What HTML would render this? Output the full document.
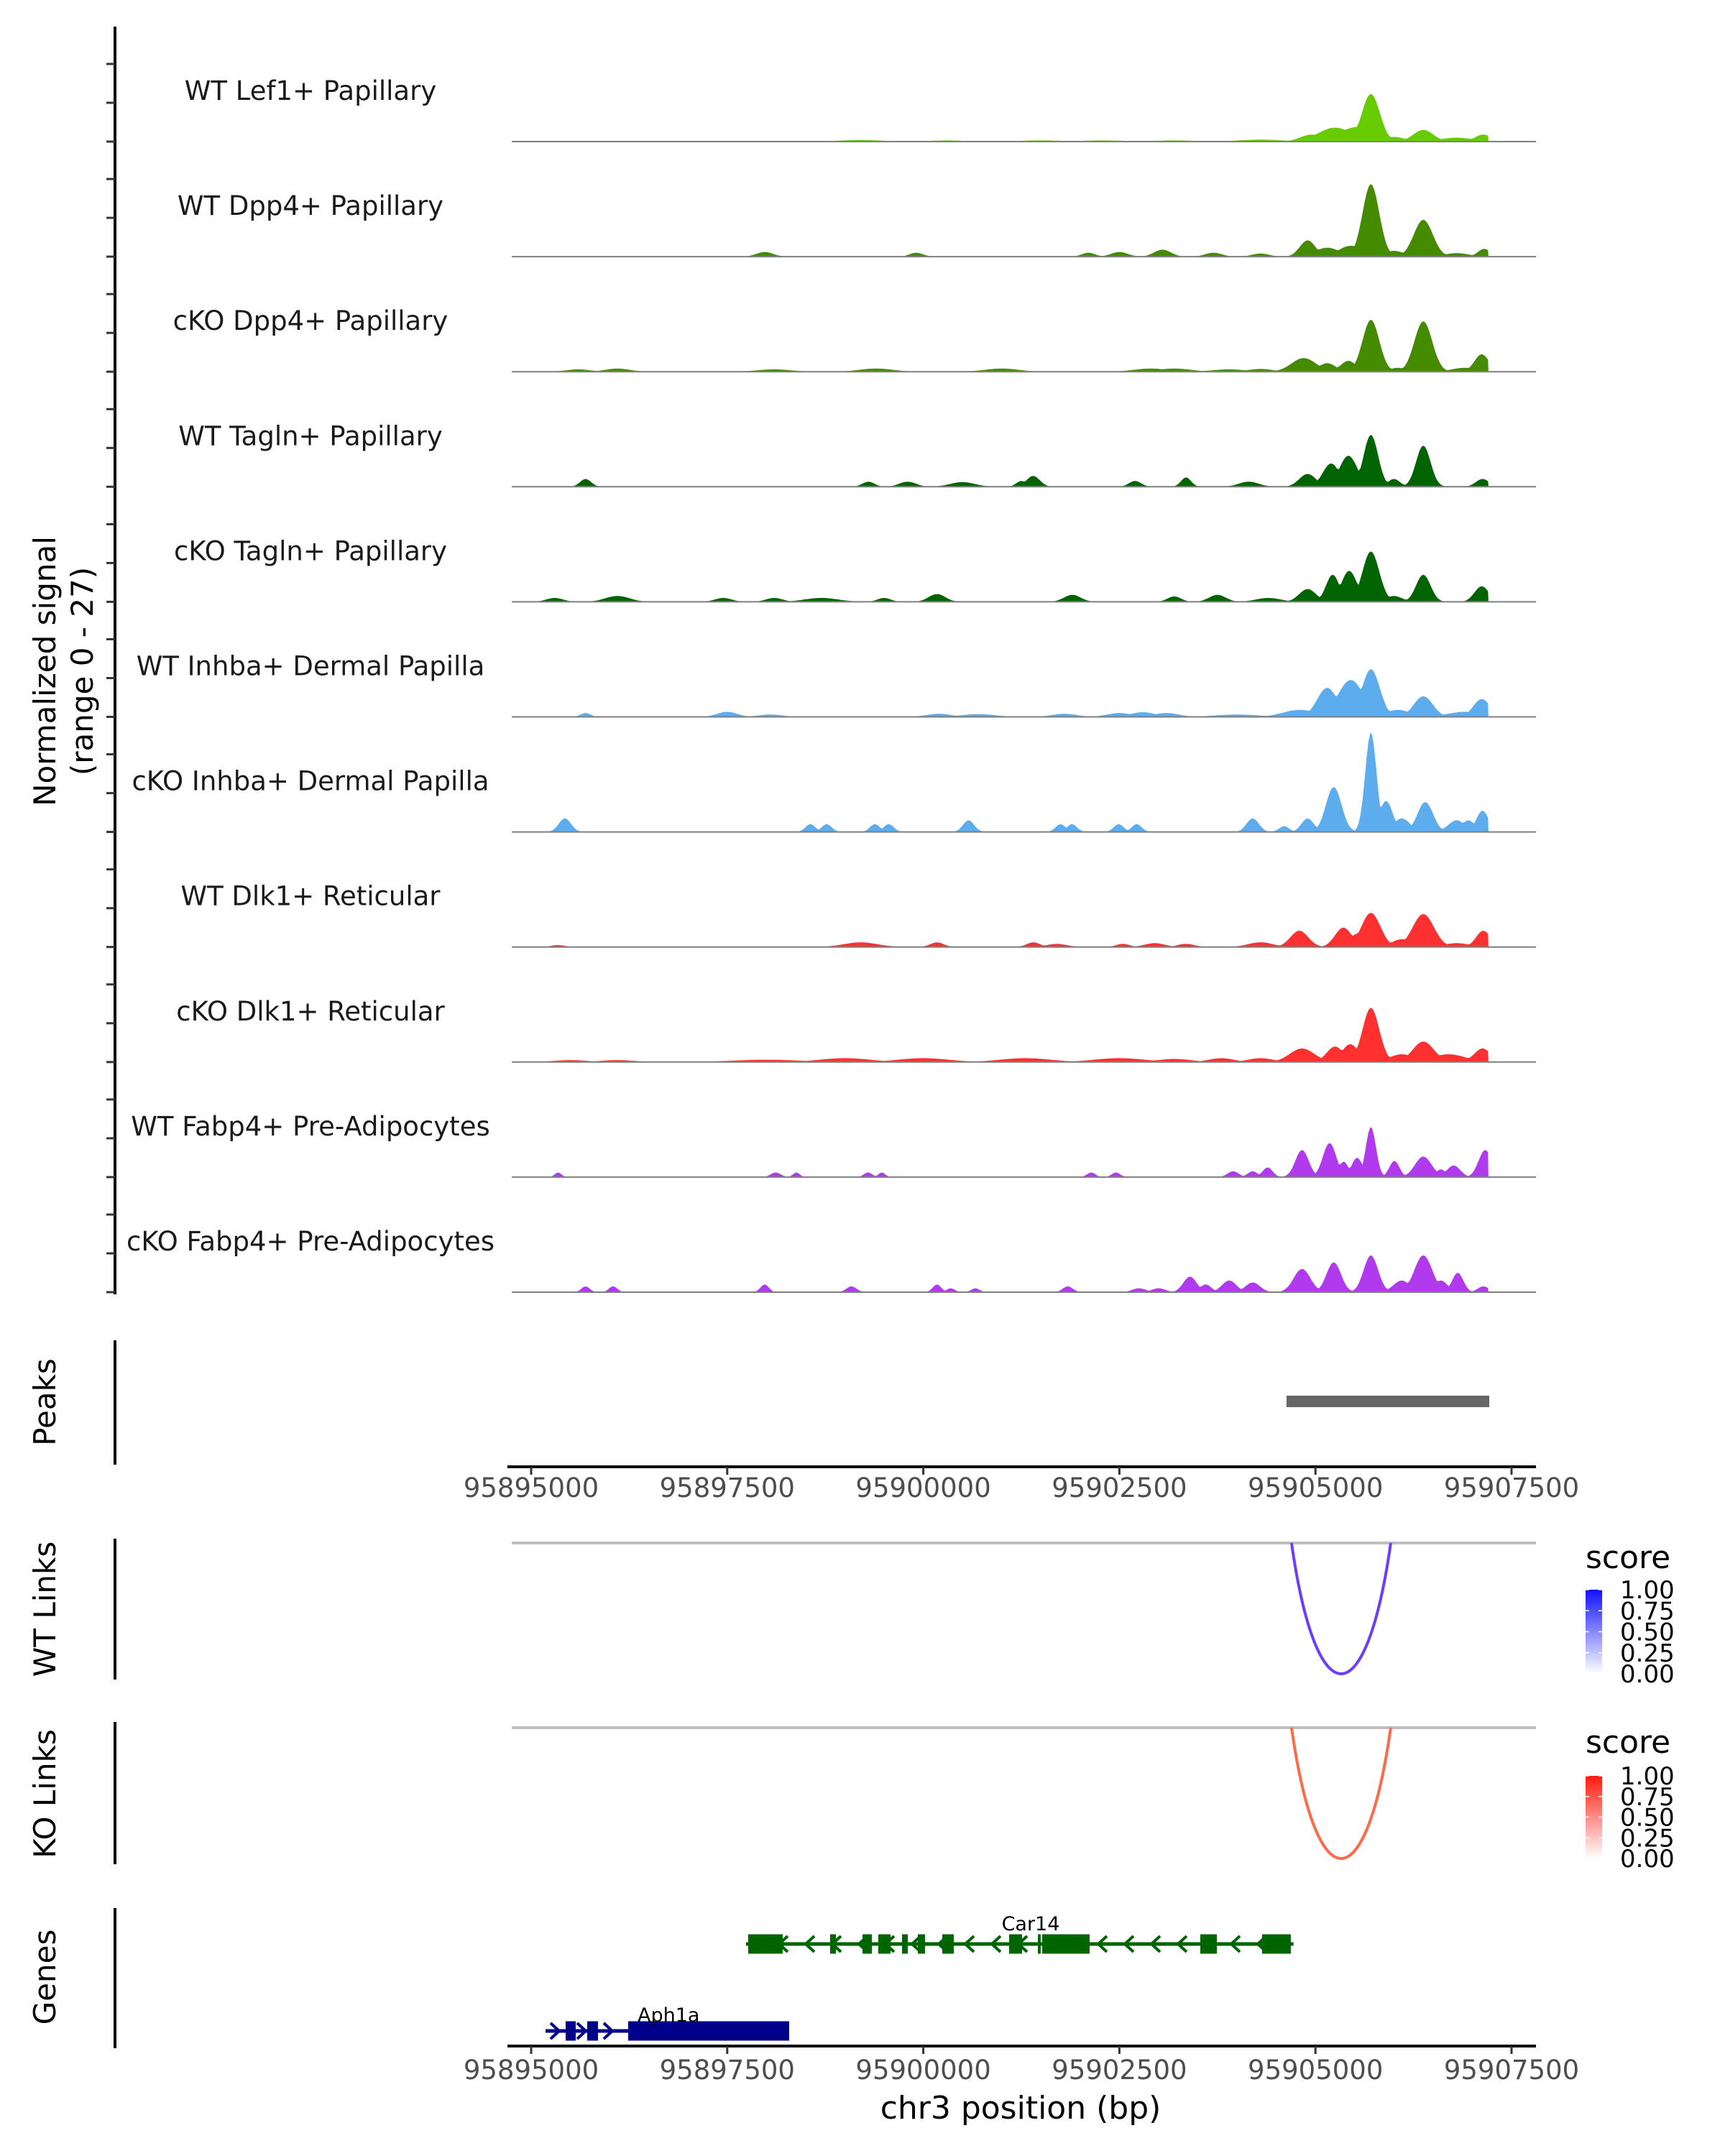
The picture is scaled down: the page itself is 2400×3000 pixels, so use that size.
<!DOCTYPE html>
<html><head><meta charset="utf-8"><style>
html,body{margin:0;padding:0;background:#fff;}
svg{display:block;font-family:"DejaVu Sans","Liberation Sans",sans-serif;}
</style></head><body>
<svg id="chart" width="2400" height="3000" viewBox="0 0 2400 3000" xmlns="http://www.w3.org/2000/svg">
<rect x="0" y="0" width="2400" height="3000" fill="#fff"/>
<g id="tracks"></g>
<g id="lower"></g>
</svg>
<script>
const NS='http://www.w3.org/2000/svg';
const START=95895000;
const trackNames=['WT Lef1+ Papillary','WT Dpp4+ Papillary','cKO Dpp4+ Papillary','WT Tagln+ Papillary','cKO Tagln+ Papillary','WT Inhba+ Dermal Papilla','cKO Inhba+ Dermal Papilla','WT Dlk1+ Reticular','cKO Dlk1+ Reticular','WT Fabp4+ Pre-Adipocytes','cKO Fabp4+ Pre-Adipocytes'];
const trackColors=['#66CC00','#458B00','#458B00','#006400','#006400','#5CACEE','#5CACEE','#FF3030','#FF3030','#B23AEE','#B23AEE'];
// bumps: [position offset from START (bp), width (bp), signal height]
const sig1=[[10707,160,12.3],[10550,350,3.8],[10250,300,3.6],[9950,200,1.8],[11375,180,3],[11000,200,1.2],[11800,300,1.0],[12140,150,1.8],[9300,400,0.5],[4200,400,0.4],[5300,300,0.3],[6500,400,0.3],[7300,400,0.3],[8200,400,0.3]];
const sig2=[[10707,150,18.7],[11375,170,9.5],[9900,140,4.2],[10150,220,2.3],[10450,220,2.8],[11000,180,1.5],[12150,110,2],[11800,220,0.9],[2978,150,1.2],[4910,120,1],[7106,120,1],[7500,150,1.2],[8050,150,1.8],[8700,150,1],[9300,150,0.8]];
const sig3=[[10707,150,13.4],[11375,160,13],[9850,220,3.5],[10150,150,2.2],[10420,140,2.8],[11050,150,1.0],[12120,130,4.5],[11900,220,1.0],[6000,300,0.8],[4400,300,0.8],[3100,300,0.6],[1100,220,0.8],[600,220,0.6],[7900,300,0.8],[8200,300,0.8],[8900,300,0.6],[9300,220,0.7]];
const sig4=[[10707,130,13.4],[10420,160,8],[10200,150,6],[11375,130,10.6],[9900,150,3.3],[12130,120,2],[11000,110,2],[694,100,2],[4300,110,1.3],[4800,150,1.3],[5500,220,1.2],[6400,120,2.8],[6250,90,1.5],[7700,110,1.5],[8350,90,2.4],[9150,180,1.3]];
const sig5=[[10707,150,13],[10430,140,8],[10220,120,7],[11375,130,7],[9900,150,3.3],[12120,130,4],[11000,150,1.5],[300,150,1],[1100,220,1.5],[2450,150,1],[3100,150,1],[3700,300,1],[4500,120,1],[5174,150,2],[6900,150,1.8],[8200,120,1.4],[8750,150,1.8],[9400,220,1]];
const sig6=[[10707,160,12.3],[10450,230,9.5],[10150,180,7.5],[11375,170,5.3],[12120,150,4.6],[9800,300,1.8],[11050,220,1.8],[11900,300,1.3],[694,90,1],[2500,180,1.3],[3050,220,0.6],[5200,220,0.8],[5700,300,0.7],[6800,220,0.8],[7500,220,1],[7800,220,1.2],[8100,220,1],[9000,400,0.6]];
const sig7=[[10707,100,25.7],[10233,140,11.6],[10900,120,8],[11400,140,7.7],[12130,110,5.5],[11100,150,3.5],[9900,110,3.5],[9200,110,3.5],[9600,90,1.5],[11800,150,3],[11950,120,3],[430,110,3.5],[3560,90,2],[3768,90,2],[4383,90,2],[4559,90,2],[5577,100,3],[6750,90,2],[6895,90,2],[7492,90,2],[7721,90,2]];
const sig8=[[10707,170,8.8],[10356,150,5],[10550,170,3.5],[9794,160,4.2],[11375,190,8.5],[11100,180,2],[12140,130,4.2],[11800,220,1],[9300,220,1.2],[4200,300,1.2],[5174,120,1.2],[6403,120,1.2],[6700,180,0.8],[7545,120,0.8],[7950,180,1],[8350,150,0.8],[343,120,0.5]];
const sig9=[[10707,150,14],[10444,150,4.6],[10250,150,4],[9829,220,3.5],[11375,190,5.3],[11100,220,2],[11700,300,2],[12130,150,3.5],[8800,220,1],[9300,220,1],[6300,450,1],[5000,450,1],[4000,450,1],[3000,600,0.6],[7500,450,1],[8200,300,0.8],[500,300,0.5],[1100,300,0.5]];
const sig10=[[10707,90,13],[10180,120,8.8],[9829,120,7],[10531,100,5],[11006,90,4.2],[11375,150,5.3],[11761,120,3],[12165,120,7],[11600,90,2],[343,60,1.2],[3118,90,1.2],[3382,60,1.2],[4295,75,1.2],[4471,60,1.2],[7141,75,1.2],[7457,75,1.2],[8950,100,1.5],[9200,90,1.5],[9390,90,2.5],[10360,90,4]];
const sig11=[[10707,130,9.5],[10233,130,7.7],[11375,160,9.5],[9829,150,6],[11814,100,5],[11100,150,3],[11600,120,3],[12140,100,1.5],[8400,120,4],[8600,100,2],[8900,130,3],[9200,130,2.5],[8000,120,1],[7750,120,1],[694,75,1.5],[1045,75,1.5],[2978,75,2],[4084,90,1.5],[5174,75,2],[5349,75,1],[5665,75,1],[6842,90,1.5]];
const signals=[sig1,sig2,sig3,sig4,sig5,sig6,sig7,sig8,sig9,sig10,sig11];
const xTicks=[95895000,95897500,95900000,95902500,95905000,95907500];
const peaks=[[95904631,95907216]];
const wtLinks=[[95904695,95905960,0.7]];
const koLinks=[[95904695,95905960,0.65]];
const car14Exons=[[95897767,95898207],[95898812,95898886],[95899225,95899344],[95899426,95899582],[95899729,95899802],[95899930,95900022],[95900242,95900388],[95901094,95901259],[95901461,95901497],[95901516,95902120],[95903532,95903743],[95904320,95904686]];
const car14Range=[95897740,95904720];
const aph1aExons=[[95895440,95895568],[95895715,95895852],[95896237,95898290]];
const aph1aRange=[95895183,95898290];
const legendTicks=['0.00','0.25','0.50','0.75','1.00'];

const xs=bp=>739+(bp-START)*272.8/2500;
const PXU=5.4;
const baseY=k=>197+160.1*k;
const SIG_START=95894750, SIG_END=95907206;

function el(tag,attrs,parent,text){const e=document.createElementNS(NS,tag);for(const k in attrs)e.setAttribute(k,attrs[k]);if(text!==undefined)e.textContent=text;parent.appendChild(e);return e;}
const tracks=document.getElementById('tracks');
const lower=document.getElementById('lower');

let ax=el('line',{x1:160,y1:37,x2:160,y2:1801,stroke:'#000','stroke-width':4},tracks);


for(let k=0;k<11;k++){for(let j=0;j<3;j++){const y=baseY(k)-j*10*PXU;
 const t=el('line',{x1:148,y1:y,x2:160,y2:y,stroke:'#333','stroke-width':3},tracks);
 
 }}
let yt=el('text',{x:0,y:0,'font-size':42,fill:'#000','text-anchor':'middle',transform:'translate(77,934) rotate(-90)'},tracks,'Normalized signal');


let yt2=el('text',{x:0,y:0,'font-size':42,fill:'#000','text-anchor':'middle',transform:'translate(129,934) rotate(-90)'},tracks,'(range 0 - 27)');



for(let k=0;k<11;k++){
 const b=baseY(k);const bumps=signals[k];
 let d='M'+xs(SIG_START).toFixed(1)+','+b;
 for(let bp=SIG_START;bp<=SIG_END;bp+=25){
   let v=0;for(const [c,w,h] of bumps){const z=(bp-START-c)/w;const val=h*Math.exp(-z*z);if(val>v)v=val;}
   d+='L'+xs(bp).toFixed(1)+','+(b-v*PXU).toFixed(1);
 }
 d+='L'+xs(SIG_END).toFixed(1)+','+b+'Z';
 const p=el('path',{d:d,fill:trackColors[k]},tracks);
 
 
 const bl=el('line',{x1:712,y1:b,x2:2137,y2:b,stroke:'#7f7f7f','stroke-width':2},tracks);
 
 
 const lab=el('text',{x:432,y:b-58,'font-size':37,fill:'#1a1a1a','text-anchor':'middle'},tracks,trackNames[k]);
 
 
}

function sideAxis(y1,y2,label,cy,name){
 const l=el('line',{x1:160,y1:y1,x2:160,y2:y2,stroke:'#000','stroke-width':4},lower);
 
 
 const t=el('text',{x:0,y:0,'font-size':42,fill:'#000','text-anchor':'middle',transform:'translate(77,'+cy+') rotate(-90)'},lower,label);
 
 
}
sideAxis(1865,2038,'Peaks',1951,'peaks');
sideAxis(2141,2337,'WT Links',2239,'wt-links');
sideAxis(2396,2594,'KO Links',2496,'ko-links');
sideAxis(2655,2850,'Genes',2751,'genes');

for(const [s,e] of peaks){const r=el('rect',{x:xs(s),y:1942,width:xs(e)-xs(s),height:16,fill:'#666'},lower);
 
 }

function xAxis(y,labY,name){
 const l=el('line',{x1:706,y1:y,x2:2137,y2:y,stroke:'#000','stroke-width':4},lower);
 
 
 for(const t of xTicks){const x=xs(t);
  const tk=el('line',{x1:x,y1:y,x2:x,y2:y+11,stroke:'#333','stroke-width':3},lower);
  
  
  const tl=el('text',{x:x,y:labY,'font-size':37,fill:'#4d4d4d','text-anchor':'middle'},lower,String(t));
  
  }
}
xAxis(2041,2083,'peaks-x-axis');
xAxis(2847,2893,'genes-x-axis');
let xt=el('text',{x:1420,y:2948,'font-size':44,fill:'#000','text-anchor':'middle'},lower,'chr3 position (bp)');



function linksPanel(links,lineY,depth,color,name){
 const g=el('line',{x1:712,y1:lineY,x2:2137,y2:lineY,stroke:'#bebebe','stroke-width':4},lower);
 
 
 for(const [s,e] of links){const x1=xs(s),x2=xs(e),w=x2-x1;const cy=lineY+depth/0.75;
  const p=el('path',{d:`M${x1},${lineY} C${x1+w*0.25},${cy} ${x2-w*0.25},${cy} ${x2},${lineY}`,fill:'none',stroke:color,'stroke-width':4},lower);
  
  }
}
linksPanel(wtLinks,2147,182,'#6A3DFF','wt-link');
linksPanel(koLinks,2404,182,'#FF6A4A','ko-link');

function legend(titleY,barTop,barBot,color,gid,name){
 const t=el('text',{x:2206,y:titleY,'font-size':44,fill:'#000'},lower,'score');
 
 
 const defs=el('defs',{},lower);
 const lg=el('linearGradient',{id:gid,x1:0,y1:1,x2:0,y2:0},defs);
 el('stop',{offset:0,'stop-color':'#ffffff'},lg);
 el('stop',{offset:1,'stop-color':color},lg);
 const r=el('rect',{x:2206,y:barTop,width:23,height:barBot-barTop,fill:`url(#${gid})`},lower);
 
 
 legendTicks.forEach((lab,i)=>{const y=barBot-(barBot-barTop)*i/(legendTicks.length-1);
  el('line',{x1:2206,y1:y,x2:2211,y2:y,stroke:'#fff','stroke-width':1.5},lower);
  el('line',{x1:2224,y1:y,x2:2229,y2:y,stroke:'#fff','stroke-width':1.5},lower);
  const tl=el('text',{x:2254,y:y+12,'font-size':34,fill:'#000'},lower,lab);
  
  });
}
legend(2182,2212,2329,'#1010FF','gradBlue','wt-legend');
legend(2439,2471,2586,'#FF1A10','gradRed','ko-legend');

function gene(exons,range,y,color,strand,label,lx,ly,anchor,name){
 const g=el('g',{},lower);
 
 
 el('line',{x1:xs(range[0]),y1:y,x2:xs(range[1]),y2:y,stroke:color,'stroke-width':5},g);
 for(let x=xs(range[0])+14;x<xs(range[1])-8;x+=37){
  const d=strand<0?`M${x+7},${y-11} L${x-5},${y} L${x+7},${y+11}`:`M${x-7},${y-11} L${x+5},${y} L${x-7},${y+11}`;
  el('path',{d:d,fill:'none',stroke:color,'stroke-width':4},g);}
 for(const [s,e] of exons){el('rect',{x:xs(s),y:y-13.5,width:xs(e)-xs(s),height:27,fill:color},g);}
 const t=el('text',{x:lx,y:ly,'font-size':27,fill:'#000','text-anchor':anchor},g,label);
 
 
}
gene(car14Exons,car14Range,2705,'#006400',-1,'Car14',1434,2686,'middle','car14-gene');
gene(aph1aExons,aph1aRange,2826,'#00008B',1,'Aph1a',887,2813,'start','aph1a-gene');
</script>
</body></html>
